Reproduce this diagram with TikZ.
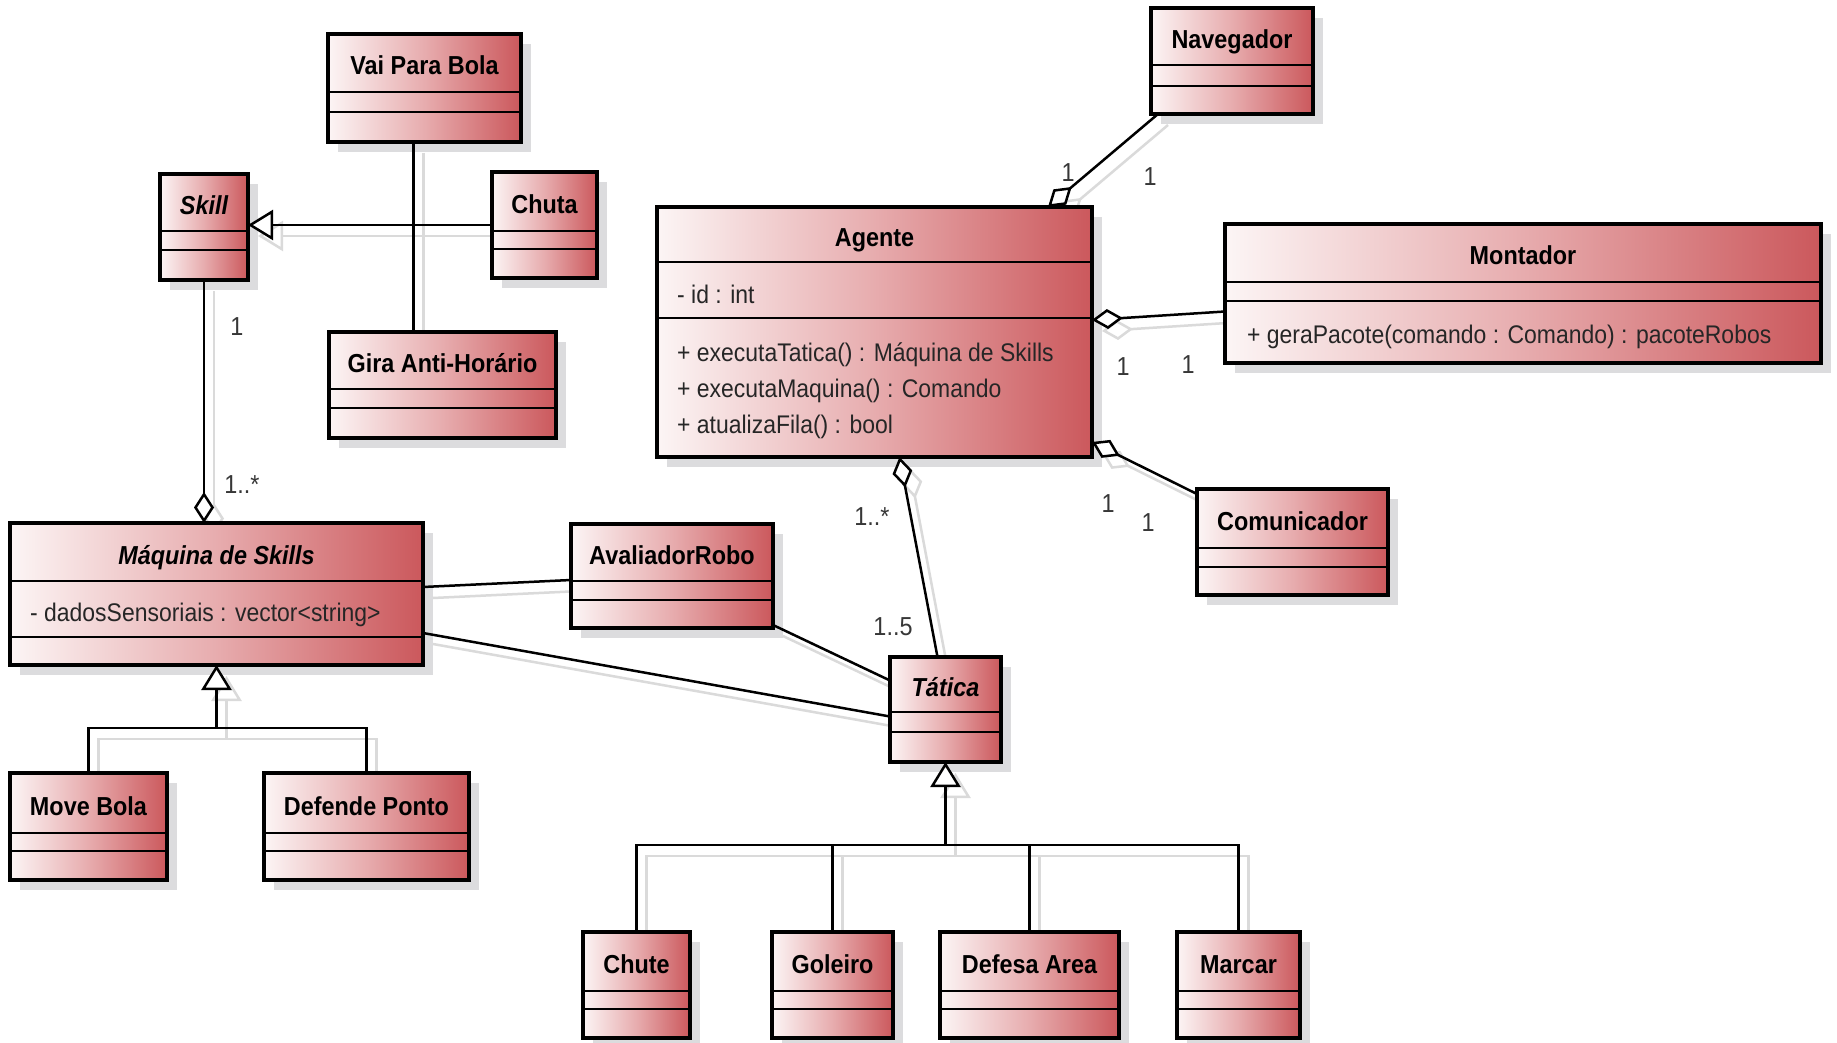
\documentclass[tikz,border=0pt]{standalone}
\usepackage{fontspec}
\setmainfont{Liberation Sans}[FakeStretch=0.9]
\usetikzlibrary{arrows.meta}
\pgfdeclarelayer{shadowlayer}
\pgfdeclarelayer{ghostlayer}
\pgfsetlayers{shadowlayer,ghostlayer,main}
\definecolor{boxL}{RGB}{252,245,245}
\definecolor{boxM}{RGB}{231,172,174}
\definecolor{boxR}{RGB}{203,88,92}
\definecolor{shadowc}{RGB}{220,220,222}
\definecolor{ghostc}{RGB}{218,218,218}
\definecolor{labc}{RGB}{55,55,55}
\tikzset{
  classbox/.style={draw=black, line width=4.5pt, left color=boxL, right color=boxR, middle color=boxM, inner sep=0pt, outer sep=0pt},
  divline/.style={line width=2pt},
  ttl/.style={font=\fontsize{26}{31}\selectfont\bfseries, inner sep=0pt, anchor=base},
  memb/.style={font=\fontsize{25.5}{30}\selectfont, text=black!85, inner sep=0pt, anchor=base west},
  mult/.style={font=\fontsize{26}{31}\selectfont, text=labc, inner sep=0pt, anchor=base},
  conn/.style={line width=2.5pt, draw=black},
  agg/.style={{Diamond[fill=white,length=31pt,width=20pt]}-},
  gen/.style={-{Triangle[fill=white,length=25pt,width=30pt]}},
}
\newcommand\uclass[8]{%
  \begin{pgfonlayer}{shadowlayer}\fill[shadowc] (#2+10,#3+10) rectangle (#4+10,#5+10);\end{pgfonlayer}
  \node[classbox, minimum width={(#4-#2)*1pt}, minimum height={(#5-#3)*1pt}] (#1) at ({(#2+#4)/2},{(#3+#5)/2}) {};
  \draw[divline] (#2,#6) -- (#4,#6) (#2,#7) -- (#4,#7);
  \node[ttl] (#1-t) at ({(#2+#4)/2},{(#3+#6)/2+12}) {#8};
}
\newcommand\conn[2][]{%
  \begin{pgfonlayer}{ghostlayer}\begin{scope}[transform canvas={shift={(10,11)}}]\draw[conn,draw=ghostc,#1] #2;\end{scope}\end{pgfonlayer}
  \draw[conn,#1] #2;
}
\begin{document}
\begin{tikzpicture}[x=1pt,y=-1pt]
\useasboundingbox (0,0) rectangle (1837,1043);
\begin{pgfonlayer}{shadowlayer}\fill[white] (0,0) rectangle (1837,1043);\end{pgfonlayer}

\uclass{vai}{328}{34}{521}{142}{92}{112}{Vai Para Bola}
\uclass{skill}{160}{174}{248}{280}{231}{250}{\itshape Skill}
\uclass{chuta}{492}{172}{597}{278}{231}{249}{Chuta}
\uclass{gira}{329}{332}{556}{438}{389}{408}{Gira Anti-Horário}
\uclass{nav}{1151}{8}{1313}{114}{65}{86}{Navegador}
\uclass{agente}{657}{207}{1092}{457}{262}{318}{Agente}
\uclass{montador}{1225}{224}{1821}{363}{282}{301}{Montador}
\uclass{comunicador}{1197}{489}{1388}{595}{548}{567}{Comunicador}
\uclass{maquina}{10}{523}{423}{665}{581}{637}{\itshape Máquina de Skills}
\uclass{avaliador}{571}{524}{773}{628}{581}{600}{AvaliadorRobo}
\uclass{tatica}{890}{657}{1001}{762}{712}{732}{\itshape Tática}
\uclass{movebola}{10}{773}{167}{880}{833}{851}{Move Bola}
\uclass{defende}{264}{773}{469}{880}{833}{851}{Defende Ponto}
\uclass{chute}{583}{932}{690}{1038}{991}{1009}{Chute}
\uclass{goleiro}{772}{932}{893}{1038}{991}{1009}{Goleiro}
\uclass{defesa}{940}{932}{1119}{1038}{991}{1009}{Defesa Area}
\uclass{marcar}{1177}{932}{1300}{1038}{991}{1009}{Marcar}

% members
\node[memb] (agente-a1) at (677,303) {- id : int};
\node[memb] (agente-m1) at (677,361) {+ executaTatica() : Máquina de Skills};
\node[memb] (agente-m2) at (677,397) {+ executaMaquina() : Comando};
\node[memb] (agente-m3) at (677,433) {+ atualizaFila() : bool};
\node[memb] (montador-m1) at (1247,343) {+ geraPacote(comando : Comando) : pacoteRobos};
\node[memb] (maquina-a1) at (30,621) {- dadosSensoriais : vector<string>};

% connectors
\coordinate (navA) at ([xshift=-44pt]agente.north east);
\coordinate (mbar) at (216.5,728);
\coordinate (tbar) at (945.5,845);

\conn[gen]{(chuta.west) -- (chuta.west -| skill.east)}
\conn{([xshift=-11pt]vai.south) -- ([xshift=-11pt]vai.south |- gira.north)}
\conn[agg]{(maquina.north -| skill.south) -- (skill.south)}
\conn[agg]{(navA) -- ([xshift=7pt]nav.south west)}
\conn[agg]{([yshift=12pt]agente.east) -- ([yshift=-18pt]montador.west)}
\conn[agg]{([yshift=15pt]agente.south east) -- ([yshift=-5pt]comunicador.north west)}
\conn[agg]{([xshift=25pt]agente.south) -- ([xshift=-8pt]tatica.north)}
\conn{([yshift=7pt]maquina.east) -- ([yshift=-4pt]avaliador.west)}
\conn{([yshift=-39pt]maquina.east) -- ([yshift=-7pt]tatica.west)}
\conn{([yshift=3pt]avaliador.south east) -- ([yshift=29pt]tatica.west)}
\conn{(movebola.north) |- (mbar) -| (defende.north)}
\conn[gen]{(mbar) -- (maquina.south)}
\conn{(chute.north) |- (tbar) -| (marcar.north)}
\conn{(goleiro.north) -- (goleiro.north |- tbar)}
\conn{(defesa.north) -- (defesa.north |- tbar)}
\conn[gen]{(tbar) -- (tatica.south)}

% multiplicities
\node[mult] (l1) at (237,335) {1};
\node[mult] (l2) at (242,493) {1..*};
\node[mult] (l3) at (1068,182) {1};
\node[mult] (l4) at (1150,186) {1};
\node[mult] (l5) at (1123,375) {1};
\node[mult] (l6) at (1188,373) {1};
\node[mult] (l7) at (1108,512) {1};
\node[mult] (l8) at (1148,531) {1};
\node[mult] (l9) at (872,525) {1..*};
\node[mult] (l10) at (893,635) {1..5};
\end{tikzpicture}
\end{document}
